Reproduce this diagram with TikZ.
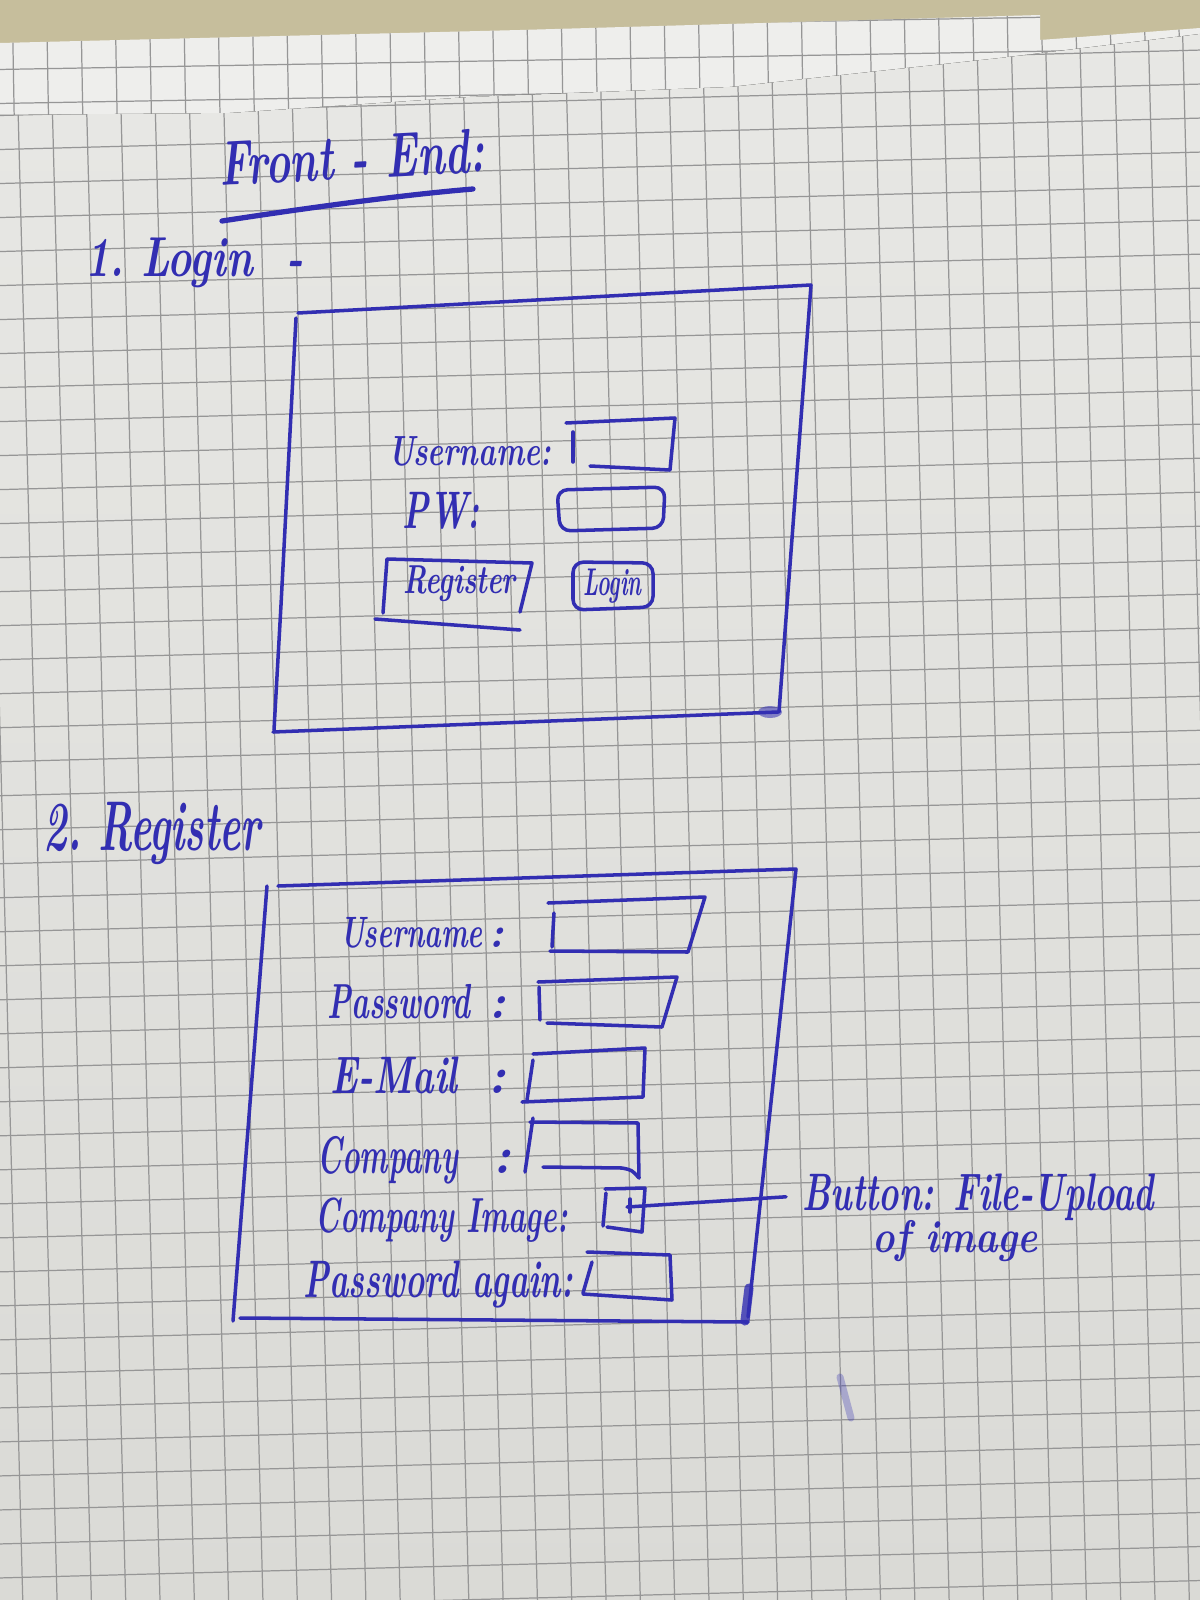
\documentclass[tikz,border=0pt]{standalone}
\usepackage{fontspec}
\usepackage{graphicx}
\usetikzlibrary{calc}
\definecolor{ink}{RGB}{50,46,178}
\definecolor{paper}{RGB}{232,232,229}
\definecolor{paperlow}{RGB}{218,218,214}
\definecolor{backpaper}{RGB}{238,238,236}
\definecolor{desk}{RGB}{198,190,156}
\definecolor{rule}{RGB}{150,150,150}
% handwritten-looking text squeezed to a given width
\newcommand\hand[3]{{\fontsize{#1}{#1}\selectfont\bfseries\itshape\resizebox{#2}{\height}{#3}}}
% form label followed by a spaced colon
\newcommand\field[4]{{\fontsize{#1}{#1}\selectfont\bfseries\itshape\makebox[#2][l]{\resizebox{#3}{\height}{#4}\hfill:}}}
\begin{document}
\begin{tikzpicture}[x=0.01cm, y=-0.01cm,
  inkline/.style={draw=ink, line width=1pt, line cap=round, line join=round},
  txt/.style={text=ink, inner sep=0pt, anchor=base west},
  gridline/.style={draw=rule, line width=0.35pt}]
\useasboundingbox (0,0) rectangle (1200,1600);
\clip (0,0) rectangle (1200,1600);

% desk and the sheets of squared paper
\fill[desk] (0,0) rectangle (1200,1600);
\begin{scope}
  \clip (0,43) -- (520,30) -- (1040,15) -- (1040,40) -- (1200,28) -- (1200,1600) -- (0,1600) -- cycle;
  \fill[backpaper] (0,0) rectangle (1200,1600);
  \begin{scope}[rotate around={1:(600,100)}]
    \foreach \i in {-2,...,38} \draw[gridline] (\i*34.3+14,-50) -- (\i*34.3+14,200);
    \foreach \j in {0,...,6} \draw[gridline] (-50,\j*34+25) -- (1300,\j*34+25);
  \end{scope}
\end{scope}
\begin{scope}
  \clip (0,115) -- (230,113) -- (470,97) -- (730,87) -- (1000,58) -- (1200,34) -- (1200,1600) -- (0,1600) -- cycle;
  \fill[top color=paper, bottom color=paperlow] (0,0) rectangle (1200,1600);
  \begin{scope}[rotate around={1.5:(600,800)}]
    \foreach \i in {-3,...,38} \draw[gridline] (\i*34.3+2,-100) -- (\i*34.3+2,1700);
    \foreach \j in {-3,...,50} \draw[gridline] (-100,\j*34-2) -- (1300,\j*34-2);
  \end{scope}
\end{scope}

% heading
\node[txt, rotate=3] (title) at (220,186) {\hand{18pt}{2.65cm}{Front - End:}};
\draw[inkline, line width=1.5pt] (222,221) .. controls (300,209) and (400,195) .. (473,189);

% 1. login screen
\node[txt] (sec1) at (85,276) {\hand{16pt}{2.18cm}{1.\ Login\ \ -}};
\draw[inkline] (298,313) -- (811,285) -- (779,712);
\draw[inkline] (273,732) -- (778,712);
\draw[inkline] (296,318) -- (281,605) -- (274,730);
\fill[ink, opacity=0.55] (770,712) ellipse (12 and 6);

\node[txt] (luser) at (388,465) {\hand{12pt}{1.62cm}{Username:}};
\draw[inkline] (566,423) -- (675,418) -- (670,470) -- (590,466);
\draw[inkline] (573,432) -- (573,462);
\node[txt] (lpw) at (402,528) {\hand{15pt}{0.77cm}{PW:}};
\draw[inkline, rounded corners=3] (557,490) -- (665,487) -- (663,528) -- (560,531) -- cycle;

\node[txt] (lreg) at (403,593) {\hand{11.5pt}{1.12cm}{Register}};
\draw[inkline] (383,613) -- (387,559) -- (532,563) -- (520,612);
\draw[inkline] (375,619) -- (520,630);
\node[txt] (llog) at (583,595) {\hand{11pt}{0.58cm}{Login}};
\draw[inkline, rounded corners=3] (573,562) -- (653,563) -- (653,607) -- (573,610) -- cycle;

% 2. registration screen
\node[txt] (sec2) at (43,850) {\hand{20pt}{2.17cm}{2.\ Register}};
\draw[inkline] (278,886) -- (796,869) -- (748,1317);
\draw[inkline] (267,886) -- (233,1321);
\draw[inkline] (240,1318) -- (748,1322);
\draw[inkline, line width=2.6pt, opacity=0.8] (749,1288) -- (745,1321);

\node[txt] (ruser) at (340,947) {\field{12.5pt}{1.63cm}{1.42cm}{Username}};
\draw[inkline] (548,903) -- (705,897) -- (688,952) -- (550,951);
\draw[inkline] (554,913) -- (552,947);

\node[txt] (rpass) at (327,1018) {\field{14pt}{1.78cm}{1.43cm}{Password}};
\draw[inkline] (538,982) -- (677,977) -- (662,1027) -- (547,1023);
\draw[inkline] (539,987) -- (540,1020);

\node[txt] (rmail) at (330,1093) {\field{15pt}{1.75cm}{1.27cm}{E-Mail}};
\draw[inkline] (533,1054) -- (645,1048) -- (643,1097) -- (522,1102);
\draw[inkline] (533,1060) -- (527,1100);

\node[txt] (rcomp) at (317,1173) {\field{15pt}{1.93cm}{1.40cm}{Company}};
\draw[inkline] (530,1122) -- (638,1123) -- (639,1178);
\draw[inkline] (543,1167) -- (622,1168) .. controls (632,1170) .. (639,1178);
\draw[inkline] (533,1118) -- (525,1172);

\node[txt] (rimg) at (315,1232) {\hand{14pt}{2.52cm}{Company Image:}};
\draw[inkline] (605,1189) -- (645,1188) -- (642,1232) -- (607,1227);
\draw[inkline] (606,1193) -- (603,1226);
\draw[inkline] (630,1199) -- (630,1212);

\node[txt] (ragain) at (303,1297) {\hand{15pt}{2.69cm}{Password again:}};
\draw[inkline] (587,1252) -- (670,1255) -- (672,1300) -- (583,1294);
\draw[inkline] (592,1262) -- (583,1293);

% note on the image upload field
\node[txt] (btn) at (802,1210) {\hand{15pt}{3.51cm}{Button: File-Upload}};
\node[txt] (btn2) at (872,1252) {\hand{13pt}{1.65cm}{of image}};
\coordinate (imgbtn) at (627,1207);
\draw[inkline] (imgbtn) -- ([xshift=-0.16cm]btn.west);

% stray pen mark
\draw[ink, opacity=0.3, line width=2pt, line cap=round] (840,1377) -- (851,1418);
\end{tikzpicture}
\end{document}
